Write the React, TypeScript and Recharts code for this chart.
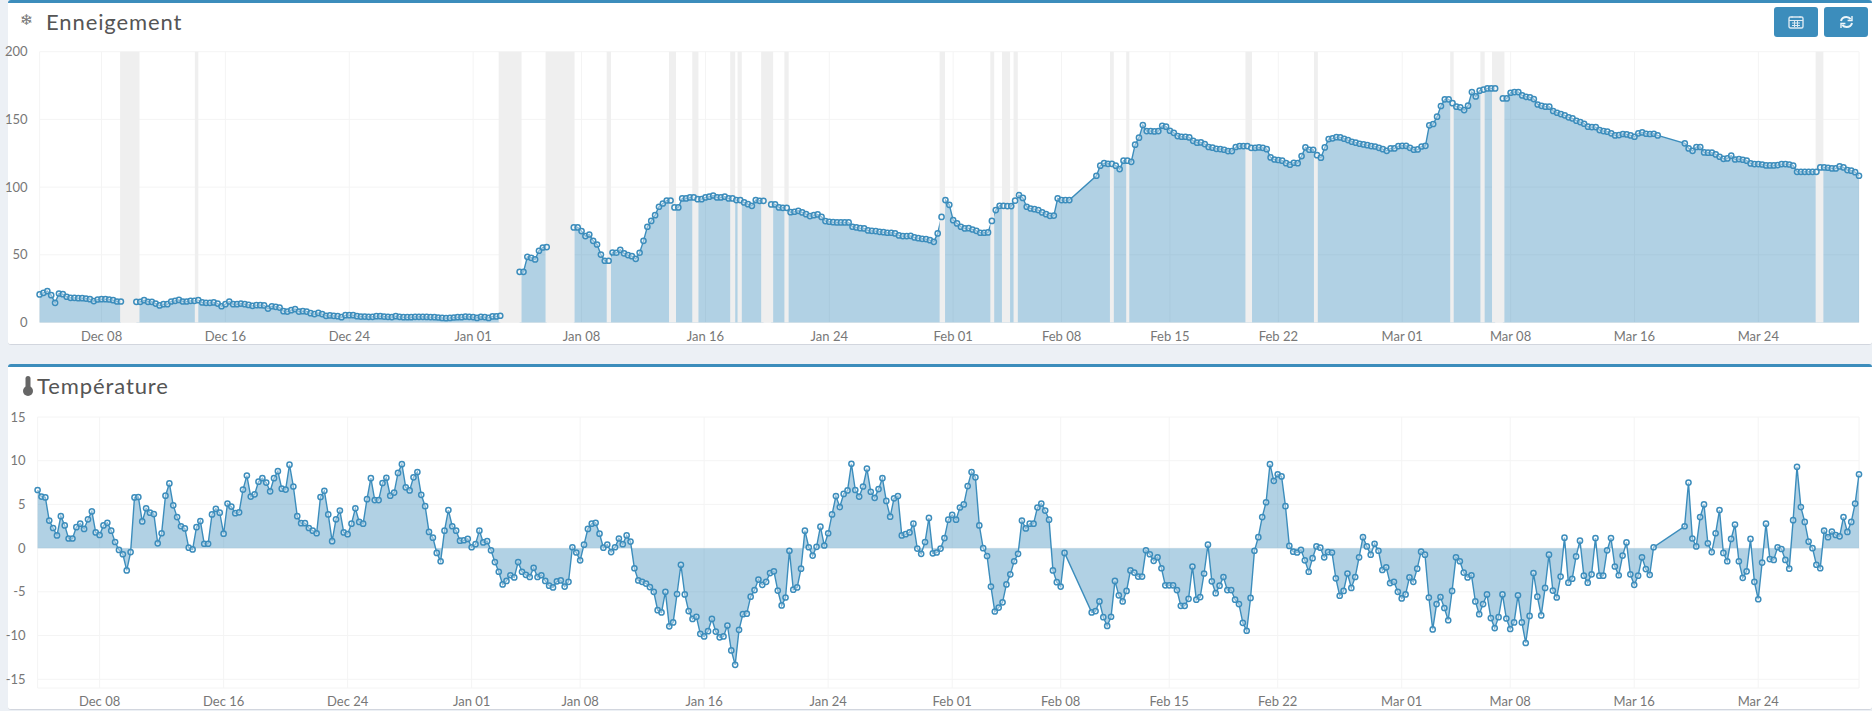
import { AreaChart, Area, XAxis, YAxis, CartesianGrid, ReferenceArea } from 'recharts';

// samples are 6 hours apart, starting Dec 04
const __ = undefined; // sample not recorded, line carries straight across

const tickSamples = [16, 48, 80, 112, 140, 172, 204, 236, 264, 292, 320, 352, 380, 412, 444];
const tickLabels = ['Dec 08', 'Dec 16', 'Dec 24', 'Jan 01', 'Jan 08', 'Jan 16', 'Jan 24', 'Feb 01', 'Feb 08', 'Feb 15', 'Feb 22', 'Mar 01', 'Mar 08', 'Mar 16', 'Mar 24'];

const snowTicks = [0, 50, 100, 150, 200];
const tempTicks = [-15, -10, -5, 0, 5, 10, 15];

const snowValues = [
  20.7, 21.9, 23.2, 20.2, 14.5, 21.4, 20.9, 19, 18.2, 18.2,
  18, 18, 17.7, 17.2, 15.8, 17, 17.2, 17.2, 17, 16.5,
  15.5, 15.5, null, null, null, 15.3, 15.3, 16.5, 15.3, 15.3,
  14, 12.6, 13.5, 13.5, 15.5, 16, 16.7, 15.5, 15.5, 16,
  16, 16.5, 14.8, 14.5, 14.5, 14.8, 14, 12, 13.5, 15.5,
  13.5, 13.5, 14, 13.5, 13, 12.3, 12.8, 12.8, 12.6, 10.3,
  12, 11.6, 11, 8.4, 8.1, 9.1, 9.9, 8.1, 8.4, 8.1,
  6.9, 6.2, 7.1, 6.2, 4.9, 5.2, 4.9, 4.7, 3.9, 5.4,
  5.4, 5.4, 4.7, 4.4, 4.4, 4.2, 4.2, 4.7, 4.7, 4.4,
  4.2, 4, 4.7, 4.2, 3.9, 3.9, 3.9, 4.2, 4.2, 4.2,
  4.1, 4, 3.9, 3.7, 3.4, 3.2, 3.4, 3.7, 3.9, 3.9,
  4.4, 4.2, 4, 3.4, 4.2, 4, 3.4, 4.5, 4.5, 5,
  null, null, null, null, 37.4, 37.4, 48.5, 47.8, 46.6, 53,
  55.4, 55.7, null, null, null, null, null, null, 70.2, 70.2,
  67.5, 63.8, 65, 60.3, 57.6, 50.2, 45.6, 45.6, 51.7, 51.5,
  53.7, 51, 49.8, 49, 47, 51.5, 60.3, 70.7, 75, 79.3,
  85.5, 87.9, 90.1, 90.1, 85, 85, 91.6, 91.6, 92.4, 92.4,
  91.1, 91.1, 92.4, 92.9, 93.8, 92.4, 92.4, 92.9, 91.6, 91.6,
  90.4, 90.4, 88.7, 87.4, 86.2, 90.4, 89.9, 89.9, null, 87.2,
  87.2, 85, 84.7, 84.7, 81.5, 81.8, 82.5, 81.3, 80, 78.6,
  79.3, 79.8, 78, 74.9, 74.4, 74.1, 73.9, 73.9, 73.9, 73.9,
  70.7, 70.2, 69.7, 69.5, 68, 67.7, 67.5, 67, 66.7, 66.3,
  66.3, 65.8, 64.3, 63.8, 63.8, 64, 62.8, 62.3, 61.8, 61.6,
  60.8, 59.6, 65.8, 78, 90.4, 86.9, 75.6, 73.2, 70.7, 69.5,
  69.7, 68.7, 67.7, 66.3, 66.3, 66.5, 75, 83, 86.2, 86.2,
  86, 86, 90, 94, 92, 85.5, 84.2, 83.7, 83, 81.3,
  80, 78.8, 79, 91.6, 90.4, 90.4, 90.4, __, __, __,
  __, __, __, 108.4, 115.8, 117.7, 117.2, 117.2, 115.8, 113.3,
  119.5, 119.5, 118.7, 131.3, 136.5, 145.8, 141.4, 141.4, 141.1, 141.4,
  145.3, 144.6, 141.6, 140.1, 137.7, 137.2, 137.2, 136.7, 134.2, 132.8,
  133, 131.8, 129.6, 129.1, 128.3, 128.1, 127.6, 126.6, 126.6, 129.6,
  130.3, 130.3, 130.3, 129, 129, 129.3, 129, 128, 121.9, 120.4,
  120, 119.5, 117.7, 116.5, 118, 117.7, 122.9, 129.3, 127.6, 127.6,
  123.6, 121.7, 129.3, 135.5, 136, 136.9, 136.7, 135.7, 134.7, 133.5,
  132.8, 132, 131.5, 131, 130.3, 130, 129, 128, 126.8, 128.6,
  128.6, 130.3, 130.5, 130.5, 129, 127.6, 127.8, 130, 130.5, 145.6,
  146.6, 152, 159.9, 164.8, 164.8, 162, 159.4, 158.9, 156.9, 160.1,
  170.2, 167, 171.2, 172, 172.9, 172.9, 172.9, null, 165.5, 165.5,
  169.7, 170.2, 170.2, 167.7, 166.7, 166.3, 165, 161, 160, 159.4,
  159.4, 156.2, 154.9, 153.9, 153, 151.5, 150.7, 149, 148, 146.8,
  144.6, 144.3, 144.3, 142.1, 141.4, 140.9, 139.7, 138.2, 138.4, 139.2,
  138.9, 138.2, 137.2, 139.7, 140.4, 139.4, 139.2, 139.4, 138.2, __,
  __, __, __, __, __, 132.3, 128.6, 126.8, 129.6, 129.6,
  125.6, 125.4, 125.4, 124.1, 122.4, 120.9, 121.2, 123.2, 120.4, 120.7,
  120.2, 119.5, 117.5, 117, 117, 116.7, 116, 116, 116, 116.3,
  117, 117, 116.7, 115.8, 111.3, 111.3, 111.3, 111.3, 111.3, 111.3,
  114.5, 114.5, 114.3, 113.8, 113.8, 115.3, 114.5, 112.6, 112.1, 111,
  108.4,
];

// periods without a snow reading, in samples
const gapStarts = [20.8, 40.1, 118.6, 130.7, 146.5, 162.6, 168.6, 178.4, 180.3, 186.4, 192.4, 232.5, 245.6, 248.6, 251.6, 276.5, 280.7, 311.5, 329.2, 364.4, 372.2, 375.2, 458.8];
const gapEnds = [25.8, 41, 124.5, 138.2, 147.6, 164.4, 170.2, 179.7, 181.4, 189.5, 193.5, 233.9, 246.6, 250.7, 252.7, 277.5, 281.5, 313.2, 330.2, 365.3, 373.3, 378.4, 460.8];

const tempValues = [
  6.65, 5.9, 5.8, 3.15, 2.3, 1.45, 3.65, 2.6, 1.1, 1.1,
  2.4, 2.8, 2.2, 3.3, 4.2, 1.8, 1.5, 2.6, 2.9, 2.0,
  0.7, -0.2, -0.7, -2.55, -0.45, 5.8, 5.85, 3.05, 4.55, 4.05,
  3.9, 0.55, 1.7, 6.0, 7.4, 4.9, 3.55, 2.5, 2.25, 0.05,
  -0.15, 2.4, 3.1, 0.5, 0.5, 3.85, 4.5, 4.05, 1.65, 5.1,
  4.75, 4.0, 4.1, 6.7, 8.3, 5.9, 6.15, 7.6, 8.0, 7.5,
  6.5, 8.0, 8.8, 6.8, 6.7, 9.55, 7.05, 3.65, 2.85, 2.85,
  2.3, 2.0, 1.7, 5.85, 6.55, 3.85, 0.8, 3.3, 4.3, 1.8,
  1.6, 2.8, 4.55, 3.0, 2.8, 5.6, 8.0, 5.5, 5.5, 7.45,
  8.05, 6.0, 6.35, 8.6, 9.6, 6.95, 6.6, 8.1, 8.7, 6.1,
  4.8, 1.85, 1.2, -0.55, -1.5, 2.0, 4.35, 2.5, 2.0, 0.85,
  0.9, 1.05, 0.1, 0.45, 2.0, 0.65, 0.8, -0.25, -1.6, -2.7,
  -4.15, -3.75, -3.1, -3.35, -1.6, -2.7, -3.05, -3.3, -2.25, -3.3,
  -3.1, -3.75, -4.3, -4.5, -3.8, -3.7, -4.4, -3.85, 0.1, -0.5,
  -1.4, 0.4, 2.2, 2.8, 2.9, 1.65, 0.05, 0.4, -0.45, 0.1,
  1.1, 0.45, 1.45, 0.75, -2.3, -3.7, -3.85, -4.05, -4.45, -5.0,
  -7.1, -7.35, -5.0, -8.95, -8.5, -5.25, -1.9, -5.3, -7.2, -8.1,
  -7.85, -9.8, -10.1, -9.5, -8.1, -9.55, -10.2, -10.1, -8.85, -11.7,
  -13.35, -9.35, -7.55, -7.5, -5.55, -4.8, -3.6, -4.2, -3.85, -2.85,
  -2.65, -4.85, -6.55, -5.65, -0.3, -4.75, -4.5, -2.35, 2.0, 0.1,
  -0.85, 0.15, 2.45, 0.3, 1.7, 3.85, 5.95, 4.7, 6.2, 6.6,
  9.65, 6.65, 5.9, 7.05, 9.1, 6.45, 5.75, 6.75, 8.0, 5.4,
  3.6, 5.7, 5.95, 1.45, 1.6, 1.8, 2.8, -0.05, -0.65, 0.7,
  3.45, -0.6, -0.5, -0.05, 1.15, 3.25, 3.8, 3.25, 4.65, 5.0,
  7.1, 8.7, 8.1, 2.6, 0, -0.9, -4.4, -7.25, -6.8, -6.2,
  -4.15, -3.0, -1.5, -0.65, 3.15, 2.25, 2.8, 2.8, 4.65, 5.1,
  4.3, 3.25, -2.55, -3.9, -4.4, -0.55, __, __, __, __,
  __, __, -7.35, -7.2, -6.1, -7.9, -8.9, -7.85, -3.75, -5.4,
  -6.1, -4.9, -2.55, -2.8, -3.25, -3.25, -0.25, -0.7, -1.45, -1.05,
  -2.3, -4.25, -4.25, -4.25, -4.8, -6.6, -6.6, -5.8, -2.1, -5.9,
  -5.6, -2.9, 0.4, -3.8, -5.15, -4.3, -3.3, -4.8, -4.8, -5.9,
  -6.4, -8.55, -9.45, -5.7, -0.3, 1.25, 3.55, 5.25, 9.6, 7.7,
  8.45, 8.2, 4.8, 0.25, -0.4, -0.5, -0.2, -1.4, -2.7, -1.15,
  0.2, 0.05, -1.05, -0.45, -0.5, -3.45, -5.45, -4.9, -2.9, -4.55,
  -3.3, -1.05, 1.25, 0.2, -0.75, 0.5, -0.3, -2.5, -2.2, -4.0,
  -3.85, -5.0, -5.75, -5.3, -3.35, -3.85, -2.35, -0.4, -0.75, -5.65,
  -9.3, -6.4, -5.6, -6.85, -8.25, -4.9, -1.05, -1.5, -2.8, -3.35,
  -3.1, -6.1, -7.55, -6.4, -5.3, -8.0, -9.15, -7.9, -5.3, -8.05,
  -9.25, -8.5, -5.4, -8.5, -10.85, -7.75, -2.85, -5.55, -7.7, -4.55,
  -0.75, -4.85, -5.65, -3.25, 1.2, -3.95, -3.5, -0.95, 0.85, -3.15,
  -3.95, -3.0, 1.15, -3.15, -3.15, -0.25, 1.15, -2.1, -3.1, -0.85,
  0.65, -3.0, -4.2, -3.15, -1.05, -2.4, -3.05, 0.1, __, __,
  __, __, __, __, __, 2.5, 7.5, 1.1, 0.2, 3.55,
  5.0, 0.55, -0.45, 1.7, 4.35, -0.55, -1.5, 1.05, 2.7, -1.5,
  -3.4, -2.65, 1.05, -3.85, -5.85, -1.65, 2.8, -1.25, -1.35, 0.1,
  -0.1, -1.35, -2.35, 3.2, 9.3, 4.7, 3.0, 0.75, 0, -1.9,
  -2.3, 2.0, 1.25, 1.9, 1.5, 1.35, 3.55, 1.85, 3.0, 5.1,
  8.45,
];

const toRows = (values: (number | null | undefined)[]) =>
  values.map((value, sample) => ({ sample, value })).filter((row) => row.value !== __);

const snowRows = toRows(snowValues);
const tempRows = toRows(tempValues);

const BLUE = '#3c8dbc';
const GRID = '#f4f4f4';
const FONT = 'Lato, "Open Sans", sans-serif';
const axisTick = { fill: '#777', fontSize: 13, fontFamily: FONT };
const sampleDot = { r: 2.6, fill: '#fff', stroke: BLUE, strokeWidth: 1.5 };

const formatTick = (sample: number) => tickLabels[tickSamples.indexOf(sample)];

function Panel({ top, height, children }: { top: number; height: number; children: React.ReactNode }) {
  return (
    <div
      style={{
        position: 'absolute',
        left: 8,
        right: 0,
        top,
        height,
        background: '#fff',
        borderTop: `3px solid ${BLUE}`,
        borderBottom: '1px solid #d2d6de',
        boxSizing: 'border-box',
        borderRadius: 3,
      }}
    >
      {children}
    </div>
  );
}

function Title({ left, text }: { left: number; text: string }) {
  return (
    <div
      style={{
        position: 'absolute',
        left,
        top: 7,
        fontFamily: FONT,
        fontSize: 22,
        letterSpacing: 0.9,
        lineHeight: '24px',
        color: '#555',
      }}
    >
      {text}
    </div>
  );
}

function ToolButton({ left, children }: { left: number; children: React.ReactNode }) {
  return (
    <div
      style={{
        position: 'absolute',
        left,
        top: 7,
        width: 44,
        height: 30,
        background: BLUE,
        borderRadius: 3,
        display: 'flex',
        alignItems: 'center',
        justifyContent: 'center',
      }}
    >
      {children}
    </div>
  );
}

export default function App() {
  return (
    <div style={{ position: 'absolute', left: 0, top: 0, width: 1872, height: 711, background: '#ecf0f5', overflow: 'hidden' }}>
      <Panel top={0} height={345}>
        <div style={{ position: 'absolute', left: 12, top: 8, fontSize: 15, color: '#777', fontFamily: 'DejaVu Sans' }}>❄</div>
        <Title left={38} text="Enneigement" />
      </Panel>
      <ToolButton left={1774}>
        <svg width="16" height="14" viewBox="0 0 16 14">
          <rect x="1" y="2" width="14" height="11" rx="1.5" fill="none" stroke="#dbe9f2" strokeWidth="1.4" />
          <path d="M1 5.5h14M4 1v2M12 1v2M4 8h8M4 10.5h8M6.5 6v6M9.5 6v6" stroke="#dbe9f2" strokeWidth="1" />
        </svg>
      </ToolButton>
      <ToolButton left={1824}>
        <svg width="15" height="14" viewBox="0 0 15 14" fill="none" stroke="#eef5f9" strokeWidth="2">
          <path d="M2 6c.6-2.6 2.8-4 5.4-4 1.8 0 3.3.8 4.3 2.2" />
          <path d="M13 8c-.6 2.6-2.8 4-5.4 4-1.8 0-3.3-.8-4.3-2.2" />
          <path d="M13 1v4.5H8.6M2 13V8.5h4.4" strokeWidth="1.4" />
        </svg>
      </ToolButton>
      <Panel top={364} height={346}>
        <svg width="12" height="22" viewBox="0 0 12 22" style={{ position: 'absolute', left: 14, top: 8 }}>
          <rect x="3.5" y="1" width="5" height="14" rx="2.5" fill="#666" />
          <circle cx="6" cy="16" r="5" fill="#666" />
        </svg>
        <Title left={29} text="Température" />
      </Panel>

      <div style={{ position: 'absolute', left: 0, top: 0 }}>
        <AreaChart width={1872} height={345} data={snowRows} margin={{ top: 51.7, right: 13, bottom: 21.5, left: 38.6 }}>
          <CartesianGrid stroke={GRID} />
          <XAxis
            dataKey="sample"
            type="number"
            domain={[0, 470]}
            ticks={tickSamples}
            tickFormatter={formatTick}
            interval={0}
            height={1}
            axisLine={false}
            tickLine={false}
            tickMargin={3}
            tick={axisTick}
          />
          <YAxis domain={[0, 200]} ticks={snowTicks} width={1} axisLine={false} tickLine={false} tickMargin={6} tick={axisTick} />
          <Area
            dataKey="value"
            type="linear"
            stroke={BLUE}
            strokeWidth={1.4}
            fill={BLUE}
            fillOpacity={0.4}
            dot={sampleDot}
            activeDot={false}
            isAnimationActive={false}
          />
          {gapStarts.map((start, i) => (
            <ReferenceArea key={start} x1={start} x2={gapEnds[i]} y1={0} y2={200} fill="#efefef" fillOpacity={1} stroke="none" />
          ))}
        </AreaChart>
      </div>

      <div style={{ position: 'absolute', left: 0, top: 364 }}>
        <AreaChart width={1872} height={346} data={tempRows} margin={{ top: 53, right: 13, bottom: 21, left: 36.6 }}>
          <CartesianGrid stroke={GRID} />
          <XAxis
            dataKey="sample"
            type="number"
            domain={[0, 470]}
            ticks={tickSamples}
            tickFormatter={formatTick}
            interval={0}
            height={1}
            axisLine={false}
            tickLine={false}
            tickMargin={3}
            tick={axisTick}
          />
          <YAxis domain={[-16, 15]} ticks={tempTicks} width={1} axisLine={false} tickLine={false} tickMargin={6} tick={axisTick} />
          <Area
            dataKey="value"
            type="linear"
            baseValue={0}
            stroke={BLUE}
            strokeWidth={1.4}
            fill={BLUE}
            fillOpacity={0.4}
            dot={sampleDot}
            activeDot={false}
            isAnimationActive={false}
          />
        </AreaChart>
      </div>
    </div>
  );
}
